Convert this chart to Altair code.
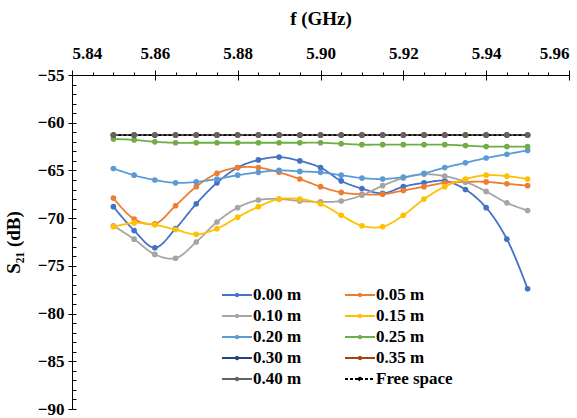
import altair as alt
import pandas as pd

freq = [5.850, 5.855, 5.860, 5.865, 5.870, 5.875, 5.880, 5.885, 5.890, 5.895, 5.900,
        5.905, 5.910, 5.915, 5.920, 5.925, 5.930, 5.935, 5.940, 5.945, 5.950]

s_000 = [-68.8, -71.3, -73.1, -71.1, -68.5, -66.3, -64.7, -63.9, -63.6, -64.0, -64.7,
         -66.1, -66.9, -67.4, -66.7, -66.3, -66.1, -67.0, -68.9, -72.2, -77.4]
s_005 = [-67.9, -70.1, -70.6, -68.7, -66.7, -65.3, -64.7, -64.7, -65.2, -65.9, -66.7,
         -67.3, -67.5, -67.5, -67.1, -66.7, -66.3, -66.2, -66.2, -66.4, -66.6]
s_010 = [-70.8, -72.2, -73.8, -74.2, -72.5, -70.4, -68.9, -68.1, -68.0, -68.2, -68.3,
         -68.2, -67.6, -66.6, -65.8, -65.4, -65.6, -66.2, -67.2, -68.4, -69.2]
s_015 = [-70.9, -70.5, -70.7, -71.2, -71.7, -71.1, -69.9, -68.8, -68.0, -68.0, -68.5,
         -69.7, -70.8, -70.9, -69.7, -68.0, -66.7, -65.9, -65.5, -65.6, -65.9]
s_020 = [-64.8, -65.5, -66.0, -66.3, -66.2, -65.9, -65.5, -65.2, -65.0, -65.1, -65.2,
         -65.5, -65.8, -65.9, -65.7, -65.3, -64.7, -64.2, -63.7, -63.3, -62.9]
s_025 = [-61.7, -61.8, -62.0, -62.1, -62.1, -62.1, -62.1, -62.1, -62.1, -62.1, -62.1,
         -62.2, -62.3, -62.3, -62.3, -62.3, -62.3, -62.4, -62.5, -62.5, -62.5]
s_030 = [-61.3, -61.3, -61.3, -61.3, -61.3, -61.3, -61.3, -61.3, -61.3, -61.3, -61.3,
         -61.3, -61.3, -61.3, -61.3, -61.3, -61.3, -61.3, -61.3, -61.3, -61.3]
s_035 = [-61.3, -61.3, -61.3, -61.3, -61.3, -61.3, -61.3, -61.3, -61.3, -61.3, -61.3,
         -61.3, -61.3, -61.3, -61.3, -61.3, -61.3, -61.3, -61.3, -61.3, -61.3]
s_040 = [-61.3, -61.3, -61.3, -61.3, -61.3, -61.3, -61.3, -61.3, -61.3, -61.3, -61.3,
         -61.3, -61.3, -61.3, -61.3, -61.3, -61.3, -61.3, -61.3, -61.3, -61.3]
free_space = [-61.3, -61.3, -61.3, -61.3, -61.3, -61.3, -61.3, -61.3, -61.3, -61.3, -61.3,
              -61.3, -61.3, -61.3, -61.3, -61.3, -61.3, -61.3, -61.3, -61.3, -61.3]

series_names = ["0.00 m", "0.05 m", "0.10 m", "0.15 m", "0.20 m", "0.25 m",
                "0.30 m", "0.35 m", "0.40 m", "Free space"]
series_values = [s_000, s_005, s_010, s_015, s_020, s_025, s_030, s_035, s_040, free_space]
series_colors = ["#4472C4", "#ED7D31", "#A5A5A5", "#FFC000", "#5B9BD5", "#70AD47",
                 "#264478", "#9E480E", "#636363", "#000000"]
series_dashes = [[1, 0]] * 9 + [[3, 2]]

x_major = [5.84, 5.86, 5.88, 5.90, 5.92, 5.94, 5.96]
x_ticks = [5.840, 5.845, 5.850, 5.855, 5.860, 5.865, 5.870, 5.875, 5.880, 5.885, 5.890,
           5.895, 5.900, 5.905, 5.910, 5.915, 5.920, 5.925, 5.930, 5.935, 5.940,
           5.945, 5.950, 5.955, 5.960]
y_major = [-90, -85, -80, -75, -70, -65, -60, -55]
y_ticks = [-90, -89, -88, -87, -86, -85, -84, -83, -82, -81, -80, -79, -78, -77, -76,
           -75, -74, -73, -72, -71, -70, -69, -68, -67, -66, -65, -64, -63, -62, -61,
           -60, -59, -58, -57, -56, -55]

rows = []
for name, vals in zip(series_names, series_values):
    for f, v in zip(freq, vals):
        rows.append({"f": f, "s21": v, "series": name})
df = pd.DataFrame(rows)

FONT = "Liberation Serif"
W, H = 497, 334
X_MAJOR_TEST = "abs(datum.value*50 - round(datum.value*50)) < 0.001"

x_scale = alt.Scale(domain=[5.84, 5.96], nice=False, zero=False)
y_scale = alt.Scale(domain=[-90, -55], nice=False, zero=False)

# main (outer) axes
x_main = alt.X(
    "f:Q", scale=x_scale,
    axis=alt.Axis(
        orient="top", values=x_ticks, title="f (GHz)",
        labelExpr=X_MAJOR_TEST + " ? format(datum.value, '.2f') : ''",
        tickSize={"condition": {"test": X_MAJOR_TEST, "value": 5}, "value": 3},
        labelOverlap=False, labelPadding=8, titlePadding=16,
    ),
)
y_main = alt.Y(
    "s21:Q", scale=y_scale,
    axis=alt.Axis(
        orient="left", values=y_major, title="S₂₁ (dB)",
        format="d", tickSize=4,
        labelOverlap=False, labelPadding=4, titlePadding=14,
    ),
)
# inner tick marks (ticks pointing into the plot)
x_inner = alt.X(
    "f:Q", scale=x_scale,
    axis=alt.Axis(
        orient="bottom", offset=-H, values=x_major, title=None, labels=False,
        domain=False, tickSize=5,
    ),
)
y_inner = alt.Y(
    "s21:Q", scale=y_scale,
    axis=alt.Axis(
        orient="right", offset=-W, values=y_ticks, title=None, labels=False,
        domain=False, tickSize=4,
    ),
)

legend = alt.Legend(title=None, orient="none", legendX=149, legendY=210,
                    columns=2, direction="horizontal")
color_enc = alt.Color("series:N", scale=alt.Scale(domain=series_names, range=series_colors),
                      legend=legend)
dash_enc = alt.StrokeDash("series:N", scale=alt.Scale(domain=series_names, range=series_dashes),
                          legend=legend)

lines = alt.Chart(df).mark_line(interpolate="catmull-rom", strokeWidth=1.8).encode(
    x=x_main, y=y_main, color=color_enc, strokeDash=dash_enc
)
points = alt.Chart(df).transform_filter(
    alt.datum.series != "Free space"
).mark_point(filled=True, size=32, opacity=1).encode(
    x=x_inner, y=y_inner, color=color_enc
)

chart = alt.layer(lines, points).resolve_axis(x="independent", y="independent").properties(
    width=W, height=H, autosize="none",
    padding={"left": 72, "top": 75, "right": 8, "bottom": 9},
    background="white",
).configure_view(stroke=None).configure_axis(
    labelFont=FONT, labelFontSize=17, labelFontWeight="bold", labelColor="black",
    titleFont=FONT, titleFontSize=19, titleFontWeight="bold", titleColor="black",
    domainColor="black", tickColor="black", grid=False,
).configure_legend(
    labelFont=FONT, labelFontSize=17, labelFontWeight="bold", labelColor="black",
    symbolType="M-1,0L1,0M-0.08,0A0.08,0.08 0 1,1 0.08,0A0.08,0.08 0 1,1 -0.08,0",
    symbolSize=900, symbolStrokeWidth=2, rowPadding=1, columnPadding=42, labelOffset=0,
    clipHeight=20,
)

chart.save("out.html", embed_options={"renderer": "svg", "actions": False})
